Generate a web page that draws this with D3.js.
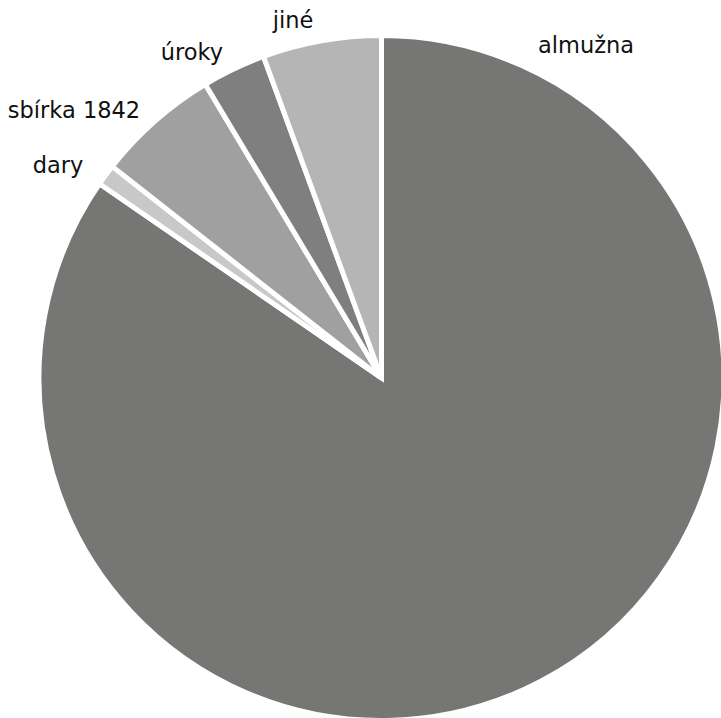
<!DOCTYPE html>
<html><head><meta charset="utf-8">
<script src="https://cdn.jsdelivr.net/npm/d3@7"></script>
<style>body{margin:0;background:#fff}svg{display:block}</style>
</head><body>
<svg id="chart" width="721" height="718"></svg>
<script>
const categories = ["almužna", "dary", "sbírka 1842", "úroky", "jiné"];
const values = [84.6, 1.0, 5.8, 3.0, 5.6];
const colors = ["#767675", "#c8c8c8", "#a0a0a0", "#7f7f7f", "#b5b5b5"];
// label anchor points (layout only)
const labelPos = [[586, 45], [58, 165], [74, 110], [192, 52], [293, 20]];

const svg = d3.select("#chart");
const cx = 381.5, cy = 378, r = 342.5;
const pie = d3.pie().sort(null).value(d => d.v);
const data = categories.map((c, i) => ({c, v: values[i], col: colors[i], lp: labelPos[i]}));
const arcs = pie(data);
const arc = d3.arc().innerRadius(0).outerRadius(r);
const g = svg.append("g").attr("transform", `translate(${cx},${cy})`);
g.selectAll("path").data(arcs).join("path")
  .attr("d", arc)
  .attr("fill", d => d.data.col)
  .attr("stroke", "#fff")
  .attr("stroke-width", 5)
  .attr("stroke-linejoin", "miter");
svg.selectAll("text.lbl").data(arcs).join("text")
  .attr("class", "lbl")
  .attr("x", d => d.data.lp[0])
  .attr("y", d => d.data.lp[1])
  .attr("text-anchor", "middle")
  .attr("dominant-baseline", "central")
  .attr("font-family", "'DejaVu Sans', sans-serif")
  .attr("font-size", 22.5)
  .attr("fill", "#111")
  .text(d => d.data.c);
</script>
</body></html>
